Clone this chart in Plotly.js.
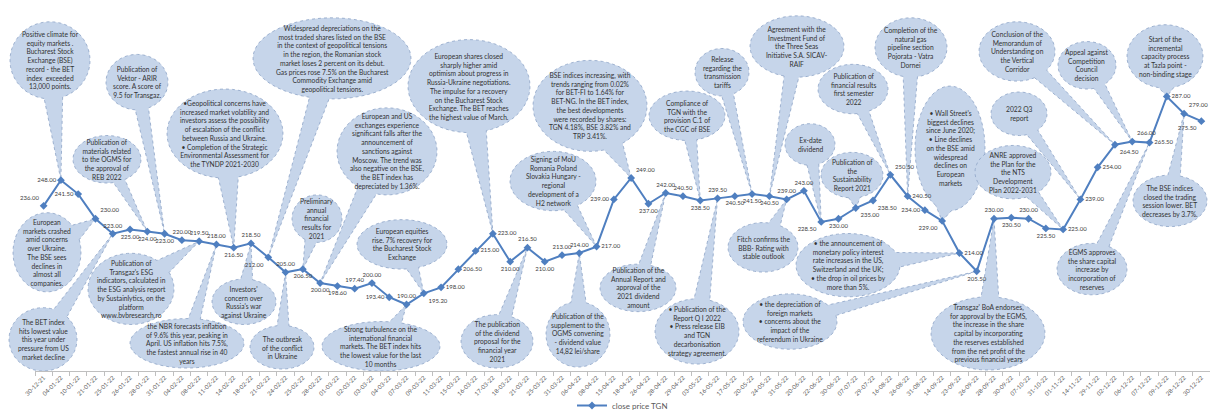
<!DOCTYPE html>
<html>
<head>
<meta charset="utf-8">
<script src="https://cdn.plot.ly/plotly-3.0.1.min.js"></script>
<style>html,body{margin:0;padding:0;background:#fff}#chart{width:1210px;height:420px}</style>
</head>
<body>
<div id="chart"></div>
<script>
// ---- data ----
const dates = ['30-12-21','04-01-22','10-01-22','21-01-22','25-01-22','26-01-22','28-01-22','31-01-22','04-02-22','08-02-22',
'11-02-22','14-02-22','18-02-22','21-02-22','24-02-22','25-02-22','28-02-22','01-03-22','02-03-22','03-03-22',
'04-03-22','07-03-22','09-03-22','11-03-22','15-03-22','16-03-22','17-03-22','18-03-22','21-03-22','25-03-22',
'31-03-22','06-04-22','08-04-22','15-04-22','18-04-22','26-04-22','28-04-22','29-04-22','03-05-22','16-05-22',
'17-05-22','20-05-22','24-05-22','31-05-22','20-06-22','22-06-22','30-06-22','07-07-22','29-07-22','16-08-22',
'26-08-22','31-08-22','14-09-22','23-09-22','26-09-22','28-09-22','30-09-22','07-10-22','31-10-22','01-11-22',
'14-11-22','29-11-22','02-12-22','06-12-22','07-12-22','09-12-22','28-12-22','30-12-22'];
const prices = [236,248,241.5,230,223,225,224,223,220,219.5,
218,216.5,218.5,212,205,206.5,200,198.6,197.4,200,
193.4,190,195.2,198,206.5,215,223,210,216.5,210,
213,214,217,239,249,237,242,240.5,238.5,239.5,
240.5,241.5,240.5,239,243,228.5,230,235,238.5,250.5,
240.5,234,229,214,205.5,230,230.5,230,225.5,225,
239,254,264.5,266,265.5,287,279,275.5];
const seriesName = 'close price TGN';

// ---- label placement (style) ----
const labelPos = ['top left','middle left','middle left','top right','top center','bottom center','bottom center','bottom center','top center','top center',
'top center','bottom center','top center','bottom left','top center','bottom center','bottom center','bottom center','top center','top center',
'middle left','top center','bottom right','middle right','middle right','middle right','middle right','bottom center','top center','bottom center',
'top center','top center','middle right','middle left','top right','bottom center','top center','top center','bottom center','top center',
'bottom center','bottom center','bottom center','top center','top center','bottom left','bottom center','bottom right','bottom right','top right',
'middle right','middle left','bottom left','middle right','bottom center','top center','bottom center','top center','bottom center','middle right',
'middle right','middle right','bottom right','top right','middle right','middle right','top right','bottom left'];

// ---- callouts: event texts and the date they point to; layout in px ----
const callouts = [
 {at:'04-01-22', t:['Positive climate for','equity markets .','Bucharest Stock','Exchange (BSE)','record - the BET','index  exceeded','13,000 points.'], cx:50, cy:61, rx:40, ry:39},
 {at:'31-01-22', t:['Publication of','Vektor - ARIR','score. A score of','9.5 for Transgaz.'], cx:137, cy:83, rx:31, ry:28},
 {at:'28-01-22', t:['Publication of','materials related','to the OGMS for','the approval of','REB 2022'], cx:107, cy:161, rx:34, ry:24},
 {at:'14-02-22', t:['•Geopolitical concerns have','increased market volatility and','investors assess the possibility','of escalation of the conflict','between Russia and Ukraine.','• Completion of the Strategic','Environmental Assessment for','the TYNDP 2021-2030'], cx:225, cy:135, rx:58, ry:45},
 {at:'21-02-22', t:['Widespread depreciations on the','most traded shares listed on the BSE','in the context of geopolitical tensions','in the region, the Romanian stock','market loses 2 percent on its debut.','Gas prices rose 7.5% on the Bucharest','Commodity Exchange amid','geopolitical tensions.'], cx:332, cy:59, rx:79, ry:41},
 {at:'28-02-22', t:['European and US','exchanges experience','significant falls after the','announcement of','sanctions against','Moscow. The trend was','also negative on the BSE,','the BET index has','depreciated by 1.36%.'], cx:387, cy:153, rx:50, ry:44},
 {at:'25-02-22', t:['Preliminary','annual','financial','results for','2021'], cx:317, cy:221, rx:25, ry:24},
 {at:'17-03-22', t:['European shares closed','sharply higher amid','optimism about progress in','Russia-Ukraine negotiations.','The impulse for a recovery','on the Bucharest Stock','Exchange. The BET reaches','the highest value of March.'], cx:469, cy:87, rx:61, ry:47},
 {at:'18-04-22', t:['BSE indices increasing, with','trends ranging from 0.02%','for BET-FI to 1.64% for','BET-NG. In the BET index,','the best developments','were recorded by shares:','TGN 4.18%, BSE 3.82% and','TRP 3.41%.'], cx:590, cy:107, rx:57, ry:46},
 {at:'08-04-22', t:['Signing of MoU','Romania Poland','Slovakia Hungary -','regional','development of a','H2 network'], cx:553, cy:183, rx:43, ry:30},
 {at:'03-05-22', t:['Compliance of','TGN with the','provision C.1 of','the CGC of BSE'], cx:687, cy:117, rx:38, ry:25},
 {at:'20-05-22', t:['Release','regarding the','transmission','tariffs'], cx:722, cy:73, rx:27, ry:24},
 {at:'24-05-22', t:['Agreement with the','Investment Fund of','the Three Seas','Initiative S.A. SICAV-','RAIF'], cx:797, cy:47, rx:47, ry:31},
 {at:'22-06-22', t:['Ex-date','dividend'], cx:810, cy:146, rx:25, ry:21},
 {at:'16-08-22', t:['Publication of','financial results','first semester','2022'], cx:853, cy:90, rx:35, ry:25},
 {at:'26-08-22', t:['Completion of the','natural gas','pipeline section','Pojorata - Vatra','Dornei'], cx:911, cy:48, rx:36, ry:30},
 {at:'07-07-22', t:['Publication of','the','Sustainability','Report 2021'], cx:852, cy:177, rx:31, ry:23},
 {at:'14-09-22', t:['• Wall Street\'s','biggest declines','since June 2020;','• Line declines','on the BSE amid','widespread','declines on','European','markets'], cx:950, cy:150, rx:35, ry:63},
 {at:'02-12-22', t:['Conclusion of the','Memorandum of','Understanding on','the Vertical','Corridor'], cx:1017, cy:52, rx:38, ry:30},
 {at:'06-12-22', t:['Appeal against','Competition','Council','decision'], cx:1087, cy:66, rx:29, ry:24},
 {at:'09-12-22', t:['Start of the','incremental','capacity process','at Tazla point -','non-binding stage'], cx:1165, cy:57, rx:38, ry:32},
 {at:'14-11-22', t:['2022 Q3','report'], cx:1019, cy:115, rx:28, ry:22},
 {at:'01-11-22', t:['ANRE approved','the Plan for the','the NTS','Development','Plan 2022-2031'], cx:1013, cy:174, rx:38, ry:27},
 {at:'21-01-22', t:['European','markets crashed','amid concerns','over Ukraine.','The BSE sees','declines in','almost all','companies.'], cx:47, cy:255, rx:34, ry:40},
 {at:'25-01-22', t:['The BET index','hits lowest value','this year under','pressure from US','market decline'], cx:43, cy:343, rx:34, ry:32},
 {at:'08-02-22', t:['Publication of','Transgaz\'s ESG','indicators, calculated in','the ESG analysis report','by Sustainlytics, on the','platform','www.bvbresearch.ro'], cx:131, cy:292, rx:43, ry:36},
 {at:'11-02-22', t:['the NBR forecasts inflation','of 9.6% this year, peaking in','April. US inflation hits 7.5%,','the fastest annual rise in 40','years'], cx:187, cy:347, rx:57, ry:25},
 {at:'18-02-22', t:['Investors\'','concern over','Russia\'s war','against Ukraine'], cx:244, cy:305, rx:32, ry:23},
 {at:'24-02-22', t:['The outbreak','of the conflict','in Ukraine'], cx:282, cy:351, rx:32, ry:22},
 {at:'09-03-22', t:['European equities','rise. 7% recovery for','the Bucharest Stock','Exchange'], cx:402, cy:247, rx:45, ry:25},
 {at:'07-03-22', t:['Strong turbulence on the','international financial','markets. The BET index hits','the lowest value for the last','10 months'], cx:381, cy:350, rx:59, ry:25},
 {at:'21-03-22', t:['The publication','of the dividend','proposal for the','financial year','2021'], cx:497, cy:345, rx:36, ry:27},
 {at:'06-04-22', t:['Publication of the','supplement to the','OGMS convening','- dividend value','14,82 lei/share'], cx:578, cy:338, rx:32, ry:33},
 {at:'28-04-22', t:['Publication of the','Annual Report and','approval of the','2021 dividend','amount'], cx:638, cy:291, rx:38, ry:24},
 {at:'16-05-22', t:['• Publication of the','Report Q I 2022','• Press release EIB','and TGN','decarbonisation','strategy agreement.'], cx:697, cy:335, rx:42, ry:33},
 {at:'31-05-22', t:['Fitch confirms the','BBB- Rating with','stable outlook'], cx:763, cy:250, rx:35, ry:25},
 {at:'26-09-22', t:['• the depreciation of','foreign markets','• concerns about the','impact of the','referendum in Ukraine'], cx:790, cy:325, rx:47, ry:28},
 {at:'23-09-22', t:['• the announcement of','monetary policy interest','rate increases in the US,','Switzerland and the UK;','• the drop in oil prices by','more than 5%.'], cx:848, cy:268, rx:52, ry:32},
 {at:'28-09-22', t:['Transgaz\' BoA endorses,','for approval by the EGMS,','the increase in the share','capital by incorporating','the reserves established','from the net profit of the','previous financial years'], cx:988, cy:337, rx:57, ry:37},
 {at:'07-12-22', t:['EGMS approves','the share capital','increase by','incorporation of','reserves'], cx:1092, cy:272, rx:35, ry:26},
 {at:'28-12-22', t:['The BSE indices','closed the trading','session lower. BET','decreases by 3.7%.'], cx:1170, cy:203, rx:37, ry:26}
];

// ---- geometry ----
const FW = 1210, FH = 420;
const M = {l:35, r:0, t:0, b:45};
const PW = FW - M.l - M.r, PH = FH - M.t - M.b;
const YR = [159, 332];
const nCat = dates.length;
const toPX = x => (x - M.l) / PW;
const toPY = y => 1 - (y - M.t) / PH;
const tipPx = i => M.l + (i + 0.5) * PW / nCat;
const tipPy = v => M.t + PH * (1 - (v - YR[0]) / (YR[1] - YR[0]));

function calloutPath(c, tx, ty) {
  const th0 = Math.atan2((ty - c.cy) / c.ry, (tx - c.cx) / c.rx);
  const sp = Math.hypot(c.rx * Math.sin(th0), c.ry * Math.cos(th0));
  const hw = Math.min(10, Math.max(6, 0.24 * Math.min(c.rx, c.ry)));
  const d = hw / sp;
  const pts = [];
  const N = 64;
  for (let k = 0; k <= N; k++) {
    const th = th0 + d + (2 * Math.PI - 2 * d) * k / N;
    pts.push([c.cx + c.rx * Math.cos(th), c.cy + c.ry * Math.sin(th)]);
  }
  pts.push([tx, ty]);
  return 'M' + pts.map(p => toPX(p[0]).toFixed(5) + ',' + toPY(p[1]).toFixed(5)).join('L') + 'Z';
}

const shapes = [], annotations = [];
callouts.forEach(c => {
  const i = dates.indexOf(c.at);
  const tx = tipPx(i), ty = tipPy(prices[i]);
  shapes.push({type:'path', xref:'paper', yref:'paper', layer:'below',
    path: calloutPath(c, tx, ty), fillcolor:'#c6d5ea',
    line:{color:'#8da3c6', width:0.8, dash:'dot'}});
  annotations.push({xref:'paper', yref:'paper', x:toPX(c.cx), y:toPY(c.cy),
    xanchor:'center', yanchor:'middle', showarrow:false, align:'center',
    text:c.t.join('<br>'), font:{family:'Lato, "Noto Sans", sans-serif', size:6.7, color:'#333333'}});
});

const trace = {
  type:'scatter', mode:'lines+markers+text', name:seriesName,
  x:dates, y:prices,
  text:prices.map(v => v.toFixed(2)), textposition:labelPos,
  textfont:{family:'Lato, "Noto Sans", sans-serif', size:6, color:'#404040'},
  line:{color:'#4f7fc0', width:2},
  marker:{symbol:'diamond', size:6, color:'#4f7fc0'},
  cliponaxis:false
};

const layout = {
  width:FW, height:FH, margin:M,
  paper_bgcolor:'#ffffff', plot_bgcolor:'rgba(0,0,0,0)',
  font:{family:'Lato, "Noto Sans", sans-serif', color:'#595959'},
  xaxis:{type:'category', range:[-0.5, nCat - 0.5], tickangle:-45, tickson:'boundaries',
    ticks:'outside', ticklen:4, tickcolor:'#bfbfbf', showline:true, linecolor:'#bfbfbf', linewidth:1,
    showgrid:false, zeroline:false, automargin:false,
    tickfont:{size:6, color:'#595959'}},
  yaxis:{range:YR, visible:false, showgrid:false, zeroline:false, automargin:false},
  showlegend:true,
  legend:{orientation:'h', x:0.5, xanchor:'center', y:toPY(410), yanchor:'middle',
    font:{size:8, color:'#595959'}, bgcolor:'rgba(0,0,0,0)'},
  shapes:shapes, annotations:annotations
};

Plotly.newPlot('chart', [trace], layout, {displayModeBar:false, staticPlot:true});
</script>
</body>
</html>
